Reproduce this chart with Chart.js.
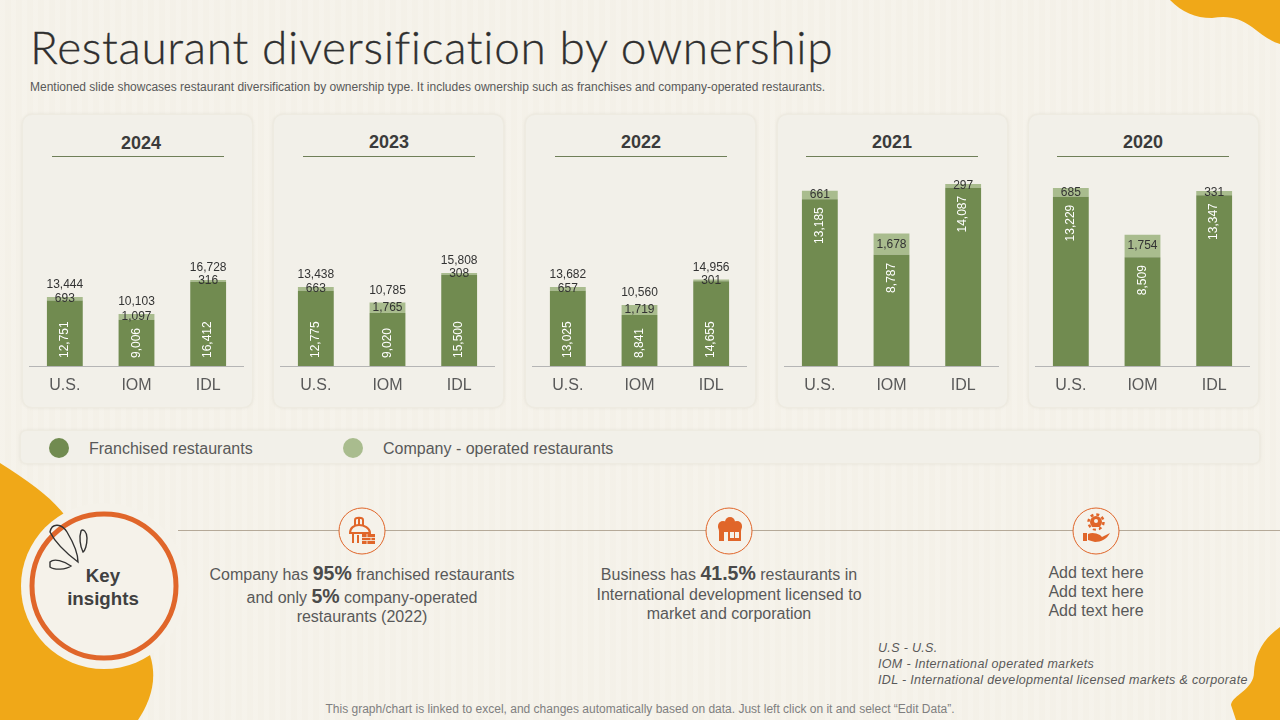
<!DOCTYPE html>
<html lang="en">
<head>
<meta charset="UTF-8">
<title>Restaurant diversification by ownership</title>
<script src="https://cdn.jsdelivr.net/npm/chart.js"></script>
<style>
    html, body { margin: 0; padding: 0; }
    body {
        width: 1280px; height: 720px; position: relative; overflow: hidden;
        font-family: "Liberation Sans", Arial, sans-serif; color: #404040;
        background-color: #f5f2ea;
        background-image: repeating-linear-gradient(90deg, rgba(255,255,255,0.05) 0 5px, rgba(225,218,200,0.05) 5px 11px);
    }
    .abs { position: absolute; white-space: nowrap; }
    #deco { position: absolute; left: 0; top: 0; }
    h1 {
        position: absolute; left: 30px; top: 19px; margin: 0; white-space: nowrap;
        font: 300 46px Lato, sans-serif; letter-spacing: 0.67px; color: #2f2f2f;
        -webkit-text-stroke: 0.3px #2f2f2f;
    }
    .sub { left: 30px; top: 80px; font-size: 12px; color: #595959; }
    .card {
        position: absolute; top: 114px; width: 231px; height: 294px; box-sizing: border-box;
        background: #f2f0e9; border: 1px solid #eeebe1; border-radius: 10px;
        box-shadow: 0 0 3px rgba(200,195,180,0.35);
    }
    .year { position: absolute; top: 132px; width: 172px; text-align: center; font-size: 18px; font-weight: bold; color: #3b3b3b; }
    .rule { position: absolute; top: 156px; width: 172px; height: 1px; background: #6f7f58; }
    canvas.panel { position: absolute; top: 160px; }
    .legend-bar {
        position: absolute; left: 20px; top: 430px; width: 1240px; height: 34px; box-sizing: border-box;
        background: #f2f0e9; border: 1px solid #eeebe1; border-radius: 6px;
        box-shadow: 0 0 3px rgba(200,195,180,0.35);
    }
    .dot { position: absolute; top: 438px; width: 20px; height: 20px; border-radius: 50%; }
    .leg { top: 440px; font-size: 16px; color: #595959; }
    .ins { text-align: center; font-size: 16px; color: #595959; transform: translateX(-50%); }
    .ins b { color: #4a4a4a; font-size: 19.5px; }
    .key { left: 103px; top: 564px; transform: translateX(-50%); text-align: center; font-weight: bold; font-size: 18.7px; line-height: 23px; color: #404040; }
    .note { left: 878px; font-size: 12.5px; font-style: italic; letter-spacing: 0.33px; color: #595959; }
    .foot { left: 640px; top: 702px; transform: translateX(-50%); font-size: 12px; color: #7f7f7f; }
</style>
</head>
<body>
<svg id="deco" width="1280" height="720">
    <path d="M1170,0 C1182,12 1195,18 1212,18 C1228,15 1240,18 1252,27 C1262,35 1270,41 1280,44 L1280,0 Z" fill="#f0a818"/>
    <path d="M1280,627 C1262,640 1255,655 1254,672 C1254,690 1232,695 1231,705 L1236,720 L1280,720 Z" fill="#f0a818"/>
    <path d="M0,463 C30,482 50,497 63,513 L150,655 C158,680 150,702 138,720 L0,720 Z" fill="#f0a818"/>
    <circle cx="104" cy="586" r="83" fill="#f5f2ea"/>
    <line x1="178" y1="530.5" x2="1280" y2="530.5" stroke="#b5a998" stroke-width="1"/>
    <circle cx="104" cy="586" r="72" fill="none" stroke="#e0662a" stroke-width="5"/>
    <g fill="none" stroke="#333" stroke-width="1.4">
        <path d="M50,532 C52,522 62,524 67,532 C73,542 78,552 78,562 C70,556 56,544 50,532 Z"/>
        <path d="M81,531 C83,528 87,532 87,538 C87,545 85,551 83,552 C80,546 79,537 81,531 Z"/>
        <path d="M50,562 C54,558 64,561 71,566 C66,570 54,570 50,567 Z"/>
    </g>
    <g fill="#f5f2ea" stroke="#e0662a" stroke-width="1">
        <circle cx="362" cy="531" r="23"/>
        <circle cx="729" cy="531" r="23"/>
        <circle cx="1096" cy="531" r="23"/>
    </g>
    <!-- store with brick wall -->
    <g fill="none" stroke="#e0662a" stroke-width="2">
        <path d="M350,533 C350,528 354,525 359,525 C364,525 370,528 370,533 Z"/>
        <path d="M353,533 L353,543 M358,535 L358,543"/>
        <path d="M355,525 L355,520 C355,517 363,517 363,520 L363,525 M359,517 L359,525"/>
    </g>
    <g fill="#e0662a">
        <rect x="362" y="534" width="13" height="10"/>
    </g>
    <g stroke="#f5f2ea" stroke-width="0.8">
        <path d="M362,537.5 H375 M362,540.5 H375 M367,534 V537.5 M371,537.5 V540.5 M367,540.5 V544"/>
    </g>
    <!-- shop with scalloped roof -->
    <g fill="#e0662a">
        <circle cx="723" cy="526" r="5"/><circle cx="730" cy="522" r="5"/><circle cx="737" cy="526" r="5"/>
        <path d="M718,526 H742 L741,531 V541 H719 V531 Z"/>
    </g>
    <g fill="#f5f2ea">
        <rect x="724" y="532" width="4" height="9"/><rect x="730" y="532" width="4" height="6"/><rect x="735" y="532" width="4" height="6"/>
    </g>
    <!-- gear over a hand -->
    <circle cx="1096" cy="522" r="6" fill="#e0662a"/>
    <circle cx="1096" cy="522" r="7.5" fill="none" stroke="#e0662a" stroke-width="2.5" stroke-dasharray="3 2.9"/>
    <circle cx="1096" cy="521" r="2" fill="#f5f2ea"/>
    <path d="M1093,527 h6 v1.5 h-6 z" fill="#f5f2ea"/>
    <g fill="#e0662a">
        <rect x="1083" y="533" width="4" height="8"/>
        <path d="M1088,534 C1092,532 1096,533 1100,535 L1102,537 L1110,533 C1107,539 1101,542 1095,542 L1088,540 Z"/>
    </g>
</svg>

<h1>Restaurant diversification by ownership</h1>
<div class="abs sub">Mentioned slide showcases restaurant diversification by ownership type. It includes ownership such as franchises and company-operated restaurants.</div>

<div class="legend-bar"></div>
<div class="dot" style="left:49px;background:#718b50"></div>
<div class="abs leg" id="legA" style="left:89px"></div>
<div class="dot" style="left:343px;background:#a9bc8e"></div>
<div class="abs leg" id="legB" style="left:383px"></div>

<div class="abs key">Key<br>insights</div>
<div class="abs ins" style="left:362px;top:562px">Company has <b>95%</b> franchised restaurants</div>
<div class="abs ins" style="left:362px;top:585px">and only <b>5%</b> company-operated</div>
<div class="abs ins" style="left:362px;top:608px">restaurants (2022)</div>
<div class="abs ins" style="left:729px;top:562px">Business has <b>41.5%</b> restaurants in</div>
<div class="abs ins" style="left:729px;top:586px">International development licensed to</div>
<div class="abs ins" style="left:729px;top:605px">market and corporation</div>
<div class="abs ins" style="left:1096px;top:564px">Add text here</div>
<div class="abs ins" style="left:1096px;top:583px">Add text here</div>
<div class="abs ins" style="left:1096px;top:602px">Add text here</div>
<div class="abs note" style="top:641px">U.S - U.S.</div>
<div class="abs note" style="top:657px">IOM - International operated markets</div>
<div class="abs note" style="top:673px">IDL - International developmental licensed markets &amp; corporate</div>
<div class="abs foot">This graph/chart is linked to excel, and changes automatically based on data. Just left click on it and select “Edit Data”.</div>

<script>
    const years = ['2024', '2023', '2022', '2021', '2020'];
    const categories = ['U.S.', 'IOM', 'IDL'];
    const seriesNames = ['Franchised restaurants', 'Company - operated restaurants'];

    const franchised2024 = [12751, 9006, 16412];
    const franchised2023 = [12775, 9020, 15500];
    const franchised2022 = [13025, 8841, 14655];
    const franchised2021 = [13185, 8787, 14087];
    const franchised2020 = [13229, 8509, 13347];

    const company2024 = [693, 1097, 316];
    const company2023 = [663, 1765, 308];
    const company2022 = [657, 1719, 301];
    const company2021 = [661, 1678, 297];
    const company2020 = [685, 1754, 331];

    // the panels do not share a scale in the source, each has its own axis top
    const axisMax = [40080, 35030, 35640, 16285, 16100];

    const franchised = [franchised2024, franchised2023, franchised2022, franchised2021, franchised2020];
    const company = [company2024, company2023, company2022, company2021, company2020];

    const cardLeft = [22, 273, 525, 777, 1028];
    const ruleLeft = [52, 303, 555, 806, 1057];
    const axisLeft = [29, 280, 532, 784, 1035];

    document.getElementById('legA').textContent = seriesNames[0];
    document.getElementById('legB').textContent = seriesNames[1];

    // Chart.js has no data labels of its own
    const barLabels = {
        id: 'barLabels',
        afterDatasetsDraw(chart, args, opts) {
            const ctx = chart.ctx;
            const low = chart.getDatasetMeta(0).data;
            const high = chart.getDatasetMeta(1).data;
            ctx.save();
            ctx.font = '12px "Liberation Sans", Arial, sans-serif';
            low.forEach((bar, i) => {
                const a = chart.data.datasets[0].data[i];
                const b = chart.data.datasets[1].data[i];
                ctx.fillStyle = '#333333';
                ctx.textAlign = 'center';
                ctx.textBaseline = 'middle';
                ctx.fillText(b.toLocaleString('en-US'), high[i].x, (high[i].y + high[i].base) / 2);
                if (opts.totals) {
                    ctx.fillText((a + b).toLocaleString('en-US'), high[i].x, high[i].y - 12);
                }
                ctx.save();
                ctx.fillStyle = '#ffffff';
                if (opts.totals) {
                    ctx.translate(bar.x, bar.base - 8);
                    ctx.textAlign = 'left';
                } else {
                    ctx.translate(bar.x, bar.y + 8);
                    ctx.textAlign = 'right';
                }
                ctx.rotate(-Math.PI / 2);
                ctx.fillText(a.toLocaleString('en-US'), 0, 0);
                ctx.restore();
            });
            ctx.restore();
        }
    };

    years.forEach((year, p) => {
        const card = document.createElement('div');
        card.className = 'card';
        card.style.left = cardLeft[p] + 'px';
        document.body.appendChild(card);

        const head = document.createElement('div');
        head.className = 'year';
        // 2024 sits a little off the rule in the source
        head.style.left = (ruleLeft[p] + (p === 0 ? 3 : 0)) + 'px';
        head.style.top = (p === 0 ? 133 : 132) + 'px';
        head.textContent = year;
        document.body.appendChild(head);

        const rule = document.createElement('div');
        rule.className = 'rule';
        rule.style.left = ruleLeft[p] + 'px';
        document.body.appendChild(rule);

        const canvas = document.createElement('canvas');
        canvas.className = 'panel';
        canvas.width = 215;
        canvas.height = 240;
        canvas.style.left = axisLeft[p] + 'px';
        document.body.appendChild(canvas);

        new Chart(canvas.getContext('2d'), {
            type: 'bar',
            plugins: [barLabels],
            data: {
                labels: categories,
                datasets: [
                    { label: seriesNames[0], data: franchised[p], backgroundColor: '#718b50' },
                    { label: seriesNames[1], data: company[p], backgroundColor: '#a9bc8e' }
                ]
            },
            options: {
                responsive: false,
                animation: false,
                categoryPercentage: 1,
                barPercentage: 0.5,
                layout: { padding: 0 },
                plugins: {
                    legend: { display: false },
                    tooltip: { enabled: false },
                    barLabels: { totals: p < 3 }
                },
                scales: {
                    x: {
                        stacked: true,
                        afterFit(scale) { scale.height = 34; },
                        grid: { display: false, drawTicks: false },
                        border: { color: '#b5b5b5' },
                        ticks: {
                            padding: 10,
                            color: '#595959',
                            font: { family: '"Liberation Sans", Arial, sans-serif', size: 16 }
                        }
                    },
                    y: { stacked: true, display: false, min: 0, max: axisMax[p] }
                }
            }
        });
    });
</script>
</body>
</html>
